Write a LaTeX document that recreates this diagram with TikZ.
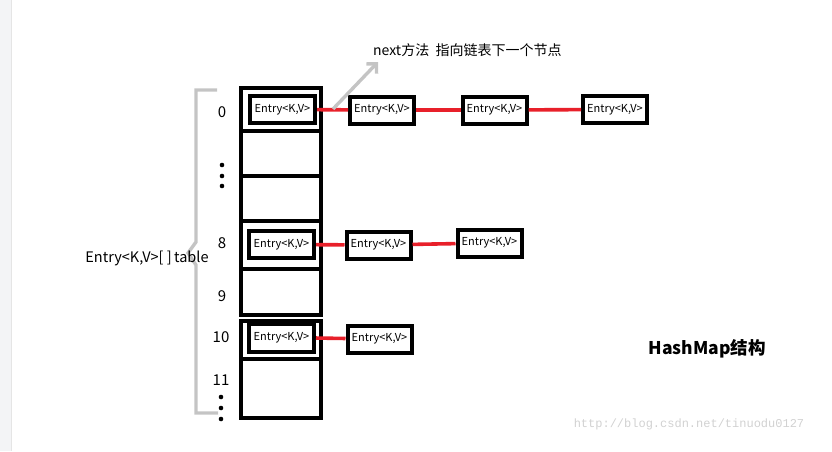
\documentclass[tikz,border=0pt]{standalone}
\usepackage{fontspec}
\setmainfont{Noto Sans CJK SC}
\newfontfamily\wmfont{Liberation Mono}
\usetikzlibrary{positioning, arrows.meta}
\definecolor{linkred}{HTML}{E8202A}
\definecolor{bracegray}{HTML}{C4C4C4}
\definecolor{sidegray}{HTML}{F3F4F6}
\tikzset{
  bucket/.style={draw, line width=3.3pt, minimum width=80pt, inner sep=0pt},
  entry/.style={draw, line width=4pt, minimum width=64pt, minimum height=27pt,
    inner sep=0pt, font=\fontsize{11}{12}\selectfont},
  link/.style={draw=linkred, line width=3.6pt},
  idx/.style={font=\fontsize{15}{17}\selectfont, inner sep=0pt},
}

\begin{document}
\begin{tikzpicture}[x=1pt, y=-1pt]
	\tikzstyle{vdot}=[fill=black]
	\tikzstyle{graybar}=[draw=bracegray, line width=3.4pt]

	\useasboundingbox (0,0) rectangle (832,451);
	\fill[sidegray] (0,0) rectangle (11,451);
	\draw[black!10] (11,0) -- (11,451);

	% table buckets
	\node[bucket, minimum height=43pt] (b0)  at (281,109.5) {};
	\node[bucket, minimum height=45pt] (bx1) at (281,153.5) {};
	\node[bucket, minimum height=45pt] (bx2) at (281,198.5) {};
	\node[bucket, minimum height=48pt] (b8)  at (281,245)   {};
	\node[bucket, minimum height=46pt] (b9)  at (281,292)   {};
	\node[bucket, minimum height=38pt] (b10) at (281,340)   {};
	\node[bucket, minimum height=59pt] (b11) at (281,388.5) {};

	\node[idx] (i0)  at (222,112) {0};
	\node[idx] (i8)  at (222,243) {8};
	\node[idx] (i9)  at (222,296) {9};
	\node[idx] (i10) at (221,337) {10};
	\node[idx] (i11) at (221,380) {11};
	\foreach \y in {165,176,186} \fill[vdot] (222,\y) circle (2.3pt);
	\foreach \y in {397,408,419} \fill[vdot] (221,\y) circle (2.3pt);

	% entries in the buckets and their chains
	\node[entry, minimum width=65pt] (e0)  at (282.5,109.5) {Entry<K,V>};
	\node[entry] (e0a) at (382,110)   {Entry<K,V>};
	\node[entry] (e0b) at (494.5,110) {Entry<K,V>};
	\node[entry] (e0c) at (615,109.5) {Entry<K,V>};

	\node[entry, minimum width=65pt] (e8)  at (281.5,244.5) {Entry<K,V>};
	\node[entry] (e8a) at (378.5,245) {Entry<K,V>};
	\node[entry] (e8b) at (489.5,243) {Entry<K,V>};

	\node[entry, minimum width=65pt, minimum height=28pt] (e10) at (281.5,337.5) {Entry<K,V>};
	\node[entry] (e10a) at (379.5,339) {Entry<K,V>};

	\path[link] (e0)  -- (e0a);
	\path[link] (e0a) -- (e0b);
	\path[link] (e0b) -- (e0c);
	\path[link] (e8)  -- (e8a);
	\path[link] (e8a) -- (e8b);
	\path[link] (e10) -- (e10a);

	% next pointer
	\coordinate (nxt0) at (333,109);
	\coordinate (nxt1) at (378,62);
	\draw[graybar, -{Straight Barb[length=7pt, width=14pt]}] (nxt0) -- (nxt1);
	\node[anchor=west, inner sep=0pt, font=\fontsize{14}{16}\selectfont] (nxt) at (373,50) {next方法~~指向链表下一个节点};

	% table brace
	\draw[graybar] (217,90) -- (196,90) -- (196,242) -- (188,253) -- (196,265) -- (196,413) -- (218,413);
	\node[font=\fontsize{14.5}{16}\selectfont, inner sep=0pt] (tbl) at (147,258) {Entry<K,V>[ ]\,table};

	\node[font=\fontsize{17.5}{19}\selectfont\bfseries, inner sep=0pt] (title) at (707,349) {HashMap结构};
	\node[font=\wmfont\fontsize{12}{14}\selectfont, text=black!18, inner sep=0pt] (wm) at (689,424) {http://blog.csdn.net/tinuodu0127};
\end{tikzpicture}
\end{document}
